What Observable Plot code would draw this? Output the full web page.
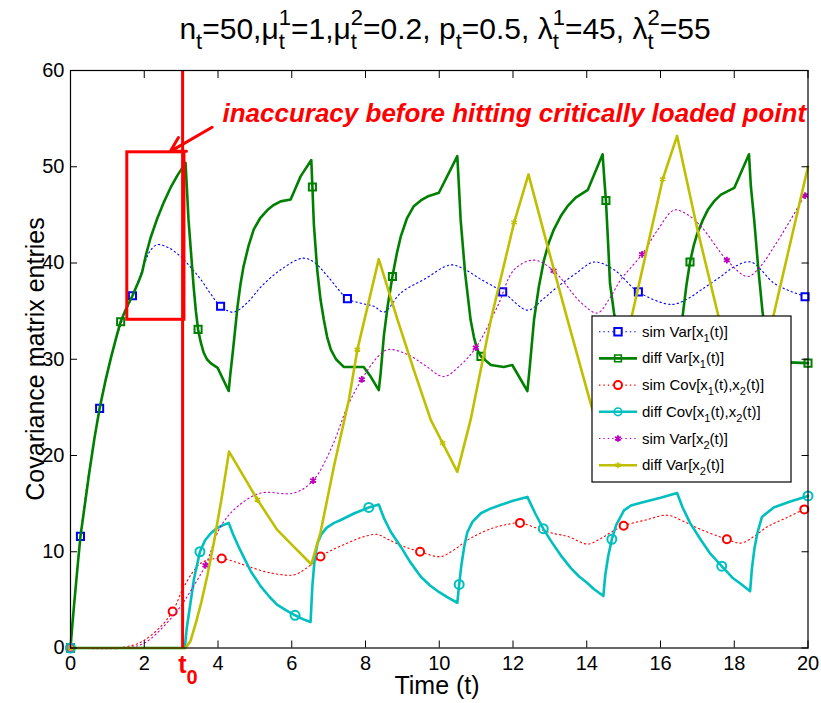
<!DOCTYPE html>
<html>
<head>
<meta charset="utf-8">
<script src="https://cdn.jsdelivr.net/npm/d3@7"></script>
<script src="https://cdn.jsdelivr.net/npm/@observablehq/plot@0.6"></script>
<style>
  html, body { margin: 0; padding: 0; background: white; }
  #chart svg { display: block; }
</style>
</head>
<body>
<div id="chart"></div>
<script>
// ---------- data (t, value) ----------
const simVar1Line = [[0,0],[0.1,4.5],[0.27,11.6],[0.5,18.3],[0.79,24.9],[1.05,29.5],[1.36,33.6],[1.68,36.6],[1.98,39.6],[2.15,41.2],[2.35,41.9],[2.65,41.6],[2.98,40.7],[3.25,39.6],[3.53,38.3],[3.8,36.8],[4.07,35.5],[4.42,34.9],[4.8,35.9],[5.16,37.5],[5.7,39.3],[6.3,40.5],[6.6,40.1],[7.0,38.5],[7.51,36.3],[7.9,35.8],[8.23,35.5],[8.5,34.9],[8.96,36.9],[9.59,38.3],[10.31,39.8],[10.7,39.3],[11.13,38.3],[11.72,37],[12.4,35.1],[12.8,36.2],[13.2,37.5],[13.7,38.9],[14.2,40.1],[14.74,39.3],[15.4,37],[16.28,35.7],[16.7,36.2],[17.1,37.2],[17.6,38.5],[18.0,39.6],[18.45,40.1],[19.08,37.9],[19.5,37.1],[19.92,36.5],[20,36.3]];
const simVar1Marks = [[0,0],[0.27,11.6],[0.79,24.9],[1.68,36.6],[4.07,35.5],[7.51,36.3],[11.72,37],[15.4,37],[19.92,36.5]];

const diffVar1Line = [[0,0],[0.05,2.4],[0.1,4.6],[0.2,8.8],[0.27,11.6],[0.4,15.2],[0.5,18],[0.65,21.8],[0.79,24.9],[0.95,27.8],[1.1,30.2],[1.25,32.4],[1.36,33.9],[1.5,35.2],[1.68,36.6],[1.85,38.1],[1.94,39],[2.05,40.9],[2.17,42.6],[2.35,44.6],[2.53,46.3],[2.71,47.8],[2.9,49.1],[3.12,50.4],[3.16,47.5],[3.2,44.5],[3.27,41],[3.34,37.5],[3.4,35],[3.46,33.1],[3.53,31.8],[3.61,30.7],[3.7,30.0],[3.8,29.6],[3.99,29.1],[4.29,26.7],[4.33,28.3],[4.4,30.7],[4.53,35.5],[4.61,37.8],[4.69,39.6],[4.83,41.8],[4.97,43.5],[5.15,44.7],[5.34,45.5],[5.5,46.0],[5.7,46.4],[5.97,46.6],[6.24,49],[6.53,50.7],[6.56,47.9],[6.6,44],[6.69,39.3],[6.78,36.2],[6.87,34.1],[6.96,32.3],[7.06,31],[7.2,30],[7.41,29.2],[7.95,29.2],[8.14,28.2],[8.36,26.8],[8.41,28.5],[8.5,32.5],[8.6,35.5],[8.73,38.6],[8.85,41],[8.96,42.8],[9.12,44.6],[9.31,45.9],[9.5,46.5],[9.68,46.9],[9.99,47.3],[10.49,51.1],[10.54,47.5],[10.58,44.5],[10.7,39],[10.85,34.1],[10.94,32.3],[11.03,31],[11.13,30.3],[11.4,29.4],[11.75,29.2],[11.98,29.4],[12.39,26.7],[12.45,29],[12.57,34.1],[12.7,37.5],[12.84,40.3],[12.97,42.1],[13.11,43.5],[13.3,44.9],[13.48,45.9],[13.7,46.8],[14.03,47.6],[14.43,51.3],[14.48,48.5],[14.52,46.5],[14.58,42],[14.63,37.9],[14.74,34.8],[14.85,32.3],[14.95,31],[15.1,29.9],[15.4,29.3],[15.9,29.3],[16.1,28.5],[16.35,26.7],[16.42,29.5],[16.5,32],[16.6,34.5],[16.7,37.6],[16.8,40.1],[16.9,41.8],[17.0,43.1],[17.14,44.4],[17.28,45.5],[17.45,46.4],[17.64,47.1],[18.0,47.8],[18.4,51.3],[18.45,48],[18.54,44.5],[18.65,39.5],[18.77,34.8],[18.86,32.6],[18.95,31.2],[19.1,30.1],[19.3,29.7],[20,29.6]];
const diffVar1Marks = [[0,0],[1.36,33.9],[3.46,33.1],[6.56,47.9],[8.73,38.6],[11.13,30.3],[14.52,46.5],[16.8,40.1],[20,29.6]];

const simCovLine = [[0,0],[1.2,0],[1.7,0.3],[2.0,0.8],[2.44,2.2],[2.77,3.8],[3.03,6],[3.3,7.8],[3.53,8.8],[3.8,9.2],[4.1,9.3],[4.5,8.9],[4.88,8.4],[5.43,7.8],[6.06,7.6],[6.4,8.3],[6.78,9.5],[7.1,10.2],[7.51,10.9],[7.9,11.5],[8.32,11.8],[8.6,11.3],[9.0,10.6],[9.48,10],[10.04,9.5],[10.4,10.2],[10.76,11.2],[11.1,11.9],[11.48,12.5],[11.8,12.8],[12.19,13],[12.75,12.3],[13.1,11.9],[13.48,11.6],[14.02,10.8],[14.35,11.3],[14.65,12],[15.0,12.7],[15.6,13.3],[16.19,13.8],[16.6,13.2],[17.1,12.3],[17.8,11.3],[18.18,10.9],[18.5,11.5],[18.9,12.6],[19.4,13.5],[19.9,14.4],[20,14.5]];
const simCovMarks = [[0,0],[2.77,3.8],[4.1,9.3],[6.78,9.5],[9.48,10],[12.19,13],[15.0,12.7],[17.8,11.3],[19.9,14.4]];

const diffCovLine = [[0,0],[3.1,0],[3.15,2],[3.25,4.6],[3.35,7.2],[3.51,10],[3.65,11.2],[3.8,11.9],[3.95,12.4],[4.1,12.7],[4.29,13],[4.4,11.9],[4.55,10.6],[4.69,9.5],[4.9,7.9],[5.16,6.4],[5.4,5.3],[5.6,4.5],[5.85,3.9],[6.09,3.4],[6.3,3.0],[6.51,2.7],[6.56,6.5],[6.62,9.2],[6.7,10.9],[6.8,11.8],[6.95,12.5],[7.15,13.0],[7.33,13.3],[7.7,14.0],[8.09,14.6],[8.36,14.9],[8.5,13.5],[8.68,12.1],[8.96,10.5],[9.2,9.0],[9.5,7.4],[9.75,6.5],[10.0,5.8],[10.25,5.2],[10.49,4.7],[10.54,6.6],[10.6,8.6],[10.68,10.6],[10.76,12],[10.9,13.1],[11.13,14],[11.4,14.5],[11.7,14.9],[12.0,15.3],[12.39,15.7],[12.6,14.0],[12.82,12.4],[13.05,11.0],[13.3,9.6],[13.57,8.3],[13.8,7.4],[14.0,6.8],[14.2,6.1],[14.45,5.4],[14.5,7.5],[14.58,9.5],[14.68,11.3],[14.8,12.8],[15.01,14.3],[15.2,14.8],[15.47,15.1],[16.0,15.6],[16.45,16.1],[16.6,14.6],[16.8,13.0],[17.1,11.2],[17.35,9.8],[17.66,8.5],[17.95,7.3],[18.2,6.6],[18.43,5.9],[18.48,8.3],[18.55,10.4],[18.63,12],[18.75,13.6],[19.07,14.6],[19.5,15.2],[20,15.8]];
const diffCovMarks = [[0,0],[3.51,10],[6.09,3.4],[8.09,14.6],[10.54,6.6],[12.82,12.4],[14.68,11.3],[17.66,8.5],[20,15.8]];

const simVar2Line = [[0,0],[1.5,0],[2.0,0.5],[2.44,1.9],[2.98,4.3],[3.3,6.2],[3.66,8.6],[4.07,12.6],[4.53,14.7],[5.16,16.1],[6.06,16.1],[6.58,17.4],[7.1,21],[7.51,25.1],[7.9,27.9],[8.32,30.2],[8.6,31],[9.14,30.5],[9.6,29.4],[10.12,28.2],[10.55,29.3],[10.99,31.2],[11.58,35.5],[12.03,39.3],[12.57,40.3],[13.1,39.2],[13.84,35.9],[14.29,34.8],[14.6,36.2],[14.93,38.3],[15.5,40.9],[15.9,43.3],[16.37,45.5],[16.7,45.1],[17.1,43.8],[17.8,40.3],[18.36,38.6],[18.7,39.6],[19.08,41.7],[19.5,44.3],[19.92,47],[20,47.3]];
const simVar2Marks = [[0,0],[3.66,8.6],[6.58,17.4],[7.9,27.9],[10.99,31.2],[13.1,39.2],[15.5,40.9],[17.8,40.3],[19.92,47]];

const diffVar2Line = [[0,0],[3.12,0],[3.25,0.7],[3.4,2.6],[3.55,4.8],[3.71,7.5],[3.89,11],[4.1,15.6],[4.3,20.4],[5.07,15.4],[5.6,12.3],[6.06,10.5],[6.53,8.7],[6.78,12],[7.14,18.8],[7.55,25.8],[7.78,31],[8.36,40.4],[8.87,34.1],[9.31,28.9],[9.77,23.7],[10.09,21.3],[10.49,18.3],[10.85,23.7],[11.4,34.1],[12.03,44.2],[12.42,49.2],[12.94,41.7],[13.48,34.1],[14.1,25.5],[14.45,21],[15.24,34.8],[16.06,48.7],[16.45,53.2],[17.0,43.5],[17.55,34.8],[18.3,22.3],[19.08,34.8],[20,50]];
const diffVar2Marks = [[0,0],[5.07,15.4],[7.78,31],[10.09,21.3],[12.03,44.2],[16.06,48.7]];

// annotation values (data units)
const t0 = 3.04;
const boxRegion = [{x1: 1.54, x2: 3.09, y1: 34.1, y2: 51.5}];
const arrowPath = [{x1: 3.84, y1: 54.1, x2: 2.71, y2: 51.6}];
const noteText = [{x: 4.12, y: 55.5, label: "inaccuracy before hitting critically loaded point"}];

const xTicks = [0,2,4,6,8,10,12,14,16,18,20];
const yTicks = [0,10,20,30,40,50,60];

// ---------- colours / styles ----------
const C = {blue:"#0000FF", green:"#008000", red:"#FF0000", cyan:"#00BFBF", magenta:"#BF00BF", olive:"#BFBF00"};
const X = d => d[0], Y = d => d[1];
const DOT = "1.4,3";

const plot = Plot.plot({
  width: 821, height: 703,
  marginLeft: 70, marginRight: 13.5, marginTop: 70, marginBottom: 55.5,
  style: {fontFamily: "'Liberation Sans', Arial, Helvetica, sans-serif", fontSize: "20px", background: "white", color: "black", overflow: "visible"},
  x: {domain: [0, 20], label: null},
  y: {domain: [0, 60], label: null},
  marks: [
    Plot.line(simVar1Line, {x: X, y: Y, stroke: C.blue, strokeWidth: 1.1, strokeDasharray: DOT, curve: "catmull-rom"}),
    Plot.dot(simVar1Marks, {x: X, y: Y, symbol: "square", r: 4, stroke: C.blue, strokeWidth: 2, fill: "white"}),
    Plot.line(diffVar1Line, {x: X, y: Y, stroke: C.green, strokeWidth: 2.6}),
    Plot.dot(diffVar1Marks, {x: X, y: Y, symbol: "square", r: 4, stroke: C.green, strokeWidth: 2, fill: "none"}),
    Plot.line(simCovLine, {x: X, y: Y, stroke: C.red, strokeWidth: 1.1, strokeDasharray: DOT, curve: "catmull-rom"}),
    Plot.dot(simCovMarks, {x: X, y: Y, symbol: "circle", r: 4, stroke: C.red, strokeWidth: 2, fill: "white"}),
    Plot.line(diffCovLine, {x: X, y: Y, stroke: C.cyan, strokeWidth: 2.6}),
    Plot.dot(diffCovMarks, {x: X, y: Y, symbol: "circle", r: 4.5, stroke: C.cyan, strokeWidth: 2, fill: "none"}),
    Plot.line(simVar2Line, {x: X, y: Y, stroke: C.magenta, strokeWidth: 1.1, strokeDasharray: DOT, curve: "catmull-rom"}),
    Plot.dot(simVar2Marks, {x: X, y: Y, symbol: "asterisk", r: 3.2, stroke: C.magenta, strokeWidth: 1.8, fill: "none"}),
    Plot.line(diffVar2Line, {x: X, y: Y, stroke: C.olive, strokeWidth: 2.6}),
    Plot.dot(diffVar2Marks, {x: X, y: Y, symbol: "asterisk", r: 3, stroke: C.olive, strokeWidth: 1.5, fill: "none"}),
    // annotations
    Plot.ruleX([t0], {x: d => d, y1: 0, y2: 60, stroke: C.red, strokeWidth: 3}),
    Plot.rect(boxRegion, {x1: "x1", x2: "x2", y1: "y1", y2: "y2", stroke: C.red, strokeWidth: 3, fill: "none"}),
    Plot.arrow(arrowPath, {x1: "x1", y1: "y1", x2: "x2", y2: "y2", stroke: C.red, strokeWidth: 3, headLength: 14, bend: 0}),
    Plot.text(noteText, {x: "x", y: "y", text: "label", textAnchor: "start", fill: C.red, fontWeight: "bold", fontStyle: "italic", fontSize: 26}),
    // frame and axes (MATLAB style: box, inward ticks)
    Plot.frame({stroke: "black", strokeWidth: 1.2}),
    Plot.axisX({anchor: "bottom", ticks: xTicks, tickSize: -7, tickPadding: 15, fontSize: 20, label: null}),
    Plot.axisX({anchor: "top", ticks: xTicks, tickSize: -7, tickFormat: () => "", label: null}),
    Plot.axisY({anchor: "left", ticks: yTicks, tickSize: -7, tickPadding: 13, fontSize: 20, label: null}),
    Plot.axisY({anchor: "right", ticks: yTicks, tickSize: -7, tickFormat: () => "", label: null})
  ]
});
document.getElementById("chart").appendChild(plot);

// ---------- rich text helpers (sub/superscripts) ----------
const svg = d3.select(plot);
function rich(pieces, {x, y, size, subSize, anchor = "start", fill = "black", weight = "normal", subDy = 0, supDy = 0, rotate = 0, parent = svg}) {
  const g = parent.append("g").attr("fill", fill).attr("font-weight", weight).attr("stroke", "none")
    .attr("text-anchor", "start").style("text-anchor", "start");
  const inner = g.append("g");
  let cx = 0;
  const add = (txt, yy, fs) => inner.append("text").attr("x", cx).attr("y", yy).attr("font-size", fs)
    .attr("text-anchor", "start").style("white-space", "pre").text(txt);
  for (const p of pieces) {
    if (p.t != null) {
      const el = add(p.t, 0, size);
      cx += el.node().getComputedTextLength();
    } else {
      let w = 0;
      if (p.sup != null) { const el = add(p.sup, -supDy, subSize); w = Math.max(w, el.node().getComputedTextLength()); }
      if (p.sub != null) { const el = add(p.sub, subDy, subSize); w = Math.max(w, el.node().getComputedTextLength()); }
      cx += w;
    }
  }
  const shift = anchor === "middle" ? -cx / 2 : anchor === "end" ? -cx : 0;
  inner.attr("transform", `translate(${shift},0)`);
  g.attr("transform", `translate(${x},${y}) rotate(${rotate})`);
  return g;
}

// title
rich([
  {t: "n"}, {sub: "t"}, {t: "=50,\u03BC"}, {sup: "1", sub: "t"}, {t: "=1,\u03BC"}, {sup: "2", sub: "t"},
  {t: "=0.2, p"}, {sub: "t"}, {t: "=0.5, \u03BB"}, {sup: "1", sub: "t"}, {t: "=45, \u03BB"}, {sup: "2", sub: "t"}, {t: "=55"}
], {x: 445, y: 39, size: 30, subSize: 22, subDy: 10, supDy: 14, anchor: "middle"});

// axis labels
rich([{t: "Time (t)"}], {x: 437, y: 694, size: 25, anchor: "middle"});
rich([{t: "Covariance matrix entries"}], {x: 44, y: 359, size: 25, anchor: "middle", rotate: -90});

// t0 label under the axis
rich([{t: "t"}, {sub: "0"}], {x: 188, y: 673, size: 25, subSize: 20, subDy: 11, anchor: "middle", fill: C.red, weight: "bold"});

// ---------- legend ----------
const legendItems = [
  {name: [{t: "sim Var[x"}, {sub: "1"}, {t: "(t)]"}], color: C.blue, dash: DOT, lw: 1.1, symbol: d3.symbolSquare, msize: 55, mfill: "white", mw: 2},
  {name: [{t: "diff Var[x"}, {sub: "1"}, {t: "(t)]"}], color: C.green, dash: null, lw: 2.6, symbol: d3.symbolSquare, msize: 45, mfill: "none", mw: 1.6},
  {name: [{t: "sim Cov[x"}, {sub: "1"}, {t: "(t),x"}, {sub: "2"}, {t: "(t)]"}], color: C.red, dash: DOT, lw: 1.1, symbol: d3.symbolCircle, msize: 50, mfill: "white", mw: 2},
  {name: [{t: "diff Cov[x"}, {sub: "1"}, {t: "(t),x"}, {sub: "2"}, {t: "(t)]"}], color: C.cyan, dash: null, lw: 2.6, symbol: d3.symbolCircle, msize: 45, mfill: "none", mw: 1.6},
  {name: [{t: "sim Var[x"}, {sub: "2"}, {t: "(t)]"}], color: C.magenta, dash: DOT, lw: 1.1, symbol: d3.symbolAsterisk, msize: 30, mfill: "none", mw: 1.8},
  {name: [{t: "diff Var[x"}, {sub: "2"}, {t: "(t)]"}], color: C.olive, dash: null, lw: 2.6, symbol: d3.symbolAsterisk, msize: 25, mfill: "none", mw: 1.5}
];
const lg = svg.append("g");
lg.append("rect").attr("x", 592).attr("y", 316).attr("width", 199).attr("height", 166)
  .attr("fill", "white").attr("stroke", "black").attr("stroke-width", 1.2);
legendItems.forEach((it, i) => {
  const cy = 331.7 + i * 26.7;
  lg.append("line").attr("x1", 599).attr("x2", 637).attr("y1", cy).attr("y2", cy)
    .attr("stroke", it.color).attr("stroke-width", it.lw).attr("stroke-dasharray", it.dash);
  lg.append("path").attr("d", d3.symbol(it.symbol, it.msize)()).attr("transform", `translate(618,${cy})`)
    .attr("fill", it.mfill).attr("stroke", it.color).attr("stroke-width", it.mw);
  rich(it.name, {x: 642, y: cy + 5, size: 15, subSize: 11, subDy: 5, parent: lg});
});
</script>
</body>
</html>
